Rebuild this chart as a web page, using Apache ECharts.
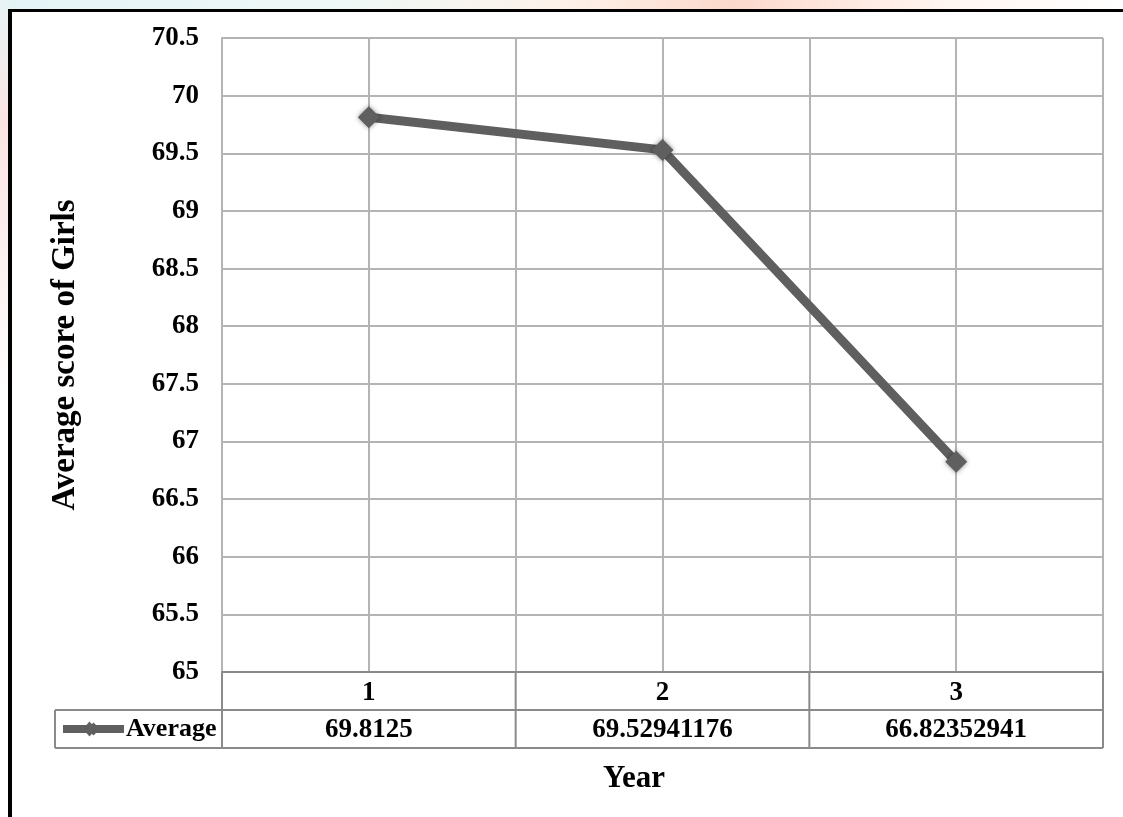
<!DOCTYPE html>
<html>
<head>
<meta charset="utf-8">
<script src="https://cdn.jsdelivr.net/npm/echarts@6/dist/echarts.min.js"></script>
<style>
html,body{margin:0;padding:0;background:#fff;}
#c{width:1123px;height:817px;}
</style>
</head>
<body>
<div id="c"></div>
<script>
// ---- data ----
const years = [1, 2, 3];
const averageValues = [69.8125, 69.52941176, 66.82352941];
const averageLabels = ['69.8125', '69.52941176', '66.82352941'];
const seriesName = 'Average';
const yTitle = 'Average score of Girls';
const xTitle = 'Year';

const FONT = "'Liberation Serif', 'Times New Roman', serif";
const LINE_COLOR = '#5f5f5f';
const GRID_COLOR = '#b4b4b4';
const TABLE_COLOR = '#8a8a8a';

const chart = echarts.init(document.getElementById('c'));

const option = {
  backgroundColor: '#ffffff',
  animation: false,
  title: {
    text: xTitle,
    left: 603, top: 763,
    padding: 0,
    textStyle: {fontFamily: FONT, fontWeight: 'bold', fontSize: 31, color: '#000'}
  },
  legend: {
    data: [seriesName],
    left: 59, top: 716,
    itemWidth: 61, itemHeight: 16, itemGap: 0,
    padding: 0,
    lineStyle: {width: 8, color: LINE_COLOR},
    itemStyle: {color: LINE_COLOR, shadowBlur: 0},
    textStyle: {fontFamily: FONT, fontWeight: 'bold', fontSize: 26, color: '#000', padding: [2, 0, 0, -3]}
  },
  grid: {left: 222, top: 38, right: 20, bottom: 145, containLabel: false},
  xAxis: {
    type: 'value', min: 0.5, max: 3.5, interval: 0.5,
    axisLine: {show: true, lineStyle: {color: TABLE_COLOR, width: 2}},
    axisTick: {show: false},
    splitLine: {show: true, lineStyle: {color: GRID_COLOR, width: 2}},
    axisLabel: {
      margin: 8,
      fontFamily: FONT, fontWeight: 'bold', fontSize: 27, color: '#000',
      formatter: function (v) { return years.indexOf(v) >= 0 ? String(v) : ''; }
    }
  },
  yAxis: {
    type: 'value', min: 65, max: 70.5, interval: 0.5,
    name: yTitle, nameLocation: 'middle', nameGap: 140,
    nameTextStyle: {fontFamily: FONT, fontWeight: 'bold', fontSize: 33, color: '#000'},
    axisLine: {show: true, lineStyle: {color: GRID_COLOR, width: 2}},
    axisTick: {show: false},
    splitLine: {show: true, lineStyle: {color: GRID_COLOR, width: 2}},
    axisLabel: {
      margin: 23,
      fontFamily: FONT, fontWeight: 'bold', fontSize: 27, color: '#000',
      formatter: function (v) { return String(+v.toFixed(1)); }
    }
  },
  series: [{
    name: seriesName,
    type: 'line',
    data: years.map((y, i) => [y, averageValues[i]]),
    lineStyle: {color: LINE_COLOR, width: 9},
    itemStyle: {color: LINE_COLOR, shadowBlur: 5, shadowColor: 'rgba(0,0,0,0.45)'},
    symbol: 'diamond',
    symbolSize: 22,
    showAllSymbol: true
  }]
};
chart.setOption(option);

// ---- data table & frame drawn with graphic, positioned from axes ----
function px(v) { return chart.convertToPixel({xAxisIndex: 0}, v); }
function py(v) { return chart.convertToPixel({yAxisIndex: 0}, v); }

const y0 = py(65);
const rowH = 38;
const tableLeft = 55;
const xs = [0.5, 1.5, 2.5, 3.5].map(px);
const g = [];
const ls = {stroke: TABLE_COLOR, lineWidth: 2};

// horizontal table lines
g.push({type: 'line', shape: {x1: xs[0], y1: y0, x2: xs[3], y2: y0}, style: ls, z: 10});
g.push({type: 'line', shape: {x1: tableLeft, y1: y0 + rowH, x2: xs[3], y2: y0 + rowH}, style: ls, z: 10});
g.push({type: 'line', shape: {x1: tableLeft, y1: y0 + 2 * rowH, x2: xs[3], y2: y0 + 2 * rowH}, style: ls, z: 10});
// vertical table lines
g.push({type: 'line', shape: {x1: tableLeft, y1: y0 + rowH, x2: tableLeft, y2: y0 + 2 * rowH}, style: ls, z: 10});
xs.forEach(x => g.push({type: 'line', shape: {x1: x, y1: y0, x2: x, y2: y0 + 2 * rowH}, style: ls, z: 10}));
// values row
years.forEach((yr, i) => {
  g.push({
    type: 'text', x: px(yr), y: y0 + rowH * 1.5 + 1,
    style: {text: averageLabels[i], font: "bold 27px " + FONT, fill: '#000', textAlign: 'center', textVerticalAlign: 'middle'},
    z: 10
  });
});
// larger legend key diamond (legend icon helper)
const kx = tableLeft + 4 + 30.5, ky = y0 + rowH * 1.5;
g.push({type: 'polygon', shape: {points: [[kx, ky - 7.5], [kx + 6.5, ky], [kx, ky + 7.5], [kx - 6.5, ky]]},
  style: {fill: LINE_COLOR}, z: 30});
// faint page background at edges + black frame lines at left/top
g.push({type: 'rect', shape: {x: 0, y: 0, width: 1123, height: 9},
  style: {fill: new echarts.graphic.LinearGradient(0, 0, 1, 0, [
    {offset: 0, color: '#e4f4f6'}, {offset: 0.3, color: '#eef8f6'}, {offset: 0.5, color: '#fdf2ea'},
    {offset: 0.65, color: '#fcd9cc'}, {offset: 0.85, color: '#fff6f2'}, {offset: 1, color: '#ffffff'}])}, z: 1});
g.push({type: 'rect', shape: {x: 0, y: 0, width: 8, height: 817},
  style: {fill: new echarts.graphic.LinearGradient(0, 0, 0, 1, [
    {offset: 0, color: '#e8f4f6'}, {offset: 0.15, color: '#fbe4e4'}, {offset: 0.5, color: '#ffffff'}, {offset: 1, color: '#ffffff'}])}, z: 1});
g.push({type: 'line', shape: {x1: 10, y1: 10.5, x2: 1123, y2: 10.5}, style: {stroke: '#000', lineWidth: 3}, z: 20});
g.push({type: 'line', shape: {x1: 10, y1: 9, x2: 10, y2: 817}, style: {stroke: '#000', lineWidth: 4}, z: 20});

chart.setOption({graphic: g});
</script>
</body>
</html>
